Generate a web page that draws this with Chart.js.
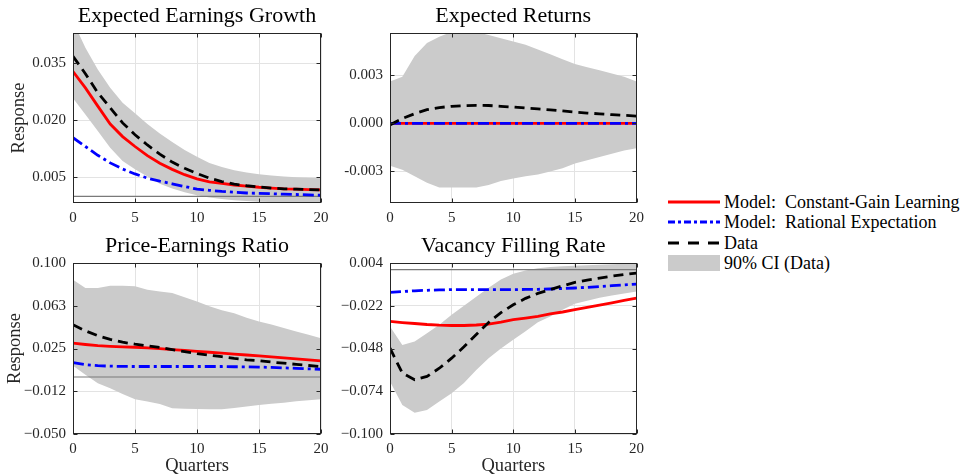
<!DOCTYPE html>
<html>
<head>
<meta charset="utf-8">
<script src="https://cdn.jsdelivr.net/npm/chart.js@4.4.1/dist/chart.umd.min.js"></script>
<style>
  html, body { margin:0; padding:0; background:#fff; }
  #wrap { position:relative; width:963px; height:475px; overflow:hidden; background:#fff; }
  canvas { position:absolute; }
  .lg { position:absolute; left:668px; height:20px; font-family:"Liberation Serif", serif; font-size:18px; color:#000; white-space:nowrap; }
  .lg svg { position:absolute; left:0; top:0; }
  .lg span { position:absolute; left:56px; top:0; line-height:20px; }
</style>
</head>
<body>
<div id="wrap">
  <canvas id="c1" width="335" height="230" style="left:0;top:0"></canvas>
  <canvas id="c2" width="320" height="230" style="left:330px;top:0"></canvas>
  <canvas id="c3" width="335" height="245" style="left:0;top:230px"></canvas>
  <canvas id="c4" width="320" height="245" style="left:330px;top:230px"></canvas>

  <div class="lg" style="top:192px"><svg width="52" height="20"><line x1="0" y1="10" x2="52" y2="10" stroke="#ff0000" stroke-width="3"/></svg><span>Model:&nbsp; Constant-Gain Learning</span></div>
  <div class="lg" style="top:212px"><svg width="52" height="20"><line x1="0" y1="10" x2="52" y2="10" stroke="#0000ff" stroke-width="3" stroke-dasharray="7,3,3,3"/></svg><span>Model:&nbsp; Rational Expectation</span></div>
  <div class="lg" style="top:233px"><svg width="52" height="20"><line x1="0" y1="10" x2="52" y2="10" stroke="#000000" stroke-width="3" stroke-dasharray="11,9"/></svg><span>Data</span></div>
  <div class="lg" style="top:253px"><svg width="52" height="20"><rect x="0" y="2" width="52" height="16" fill="#cbcbcb"/></svg><span>90% CI (Data)</span></div>
</div>
<script>
// ---------------- DATA ----------------
const quarters = [0,1,2,3,4,5,6,7,8,9,10,11,12,13,14,15,16,17,18,19,20];

// Panel 1: Expected Earnings Growth
const eegCGL  = [0.0328,0.0285,0.0237,0.0190,0.0157,0.0131,0.0107,0.0087,0.0071,0.0057,0.0046,0.0038,0.0034,0.0030,0.0027,0.0024,0.0022,0.0020,0.0019,0.0018,0.0017];
const eegRE   = [0.0154,0.0131,0.0108,0.0088,0.0072,0.0059,0.0048,0.0040,0.0033,0.0026,0.0019,0.0016,0.0013,0.0011,0.0009,0.0008,0.0007,0.0006,0.0005,0.0004,0.0003];
const eegData = [0.0368,0.0322,0.0272,0.0233,0.0193,0.0162,0.0135,0.0111,0.0090,0.0074,0.0060,0.0048,0.0039,0.0032,0.0028,0.0025,0.0022,0.0020,0.0019,0.0018,0.0017];
const eegHi   = [0.0460,0.0390,0.0333,0.0285,0.0246,0.0218,0.0190,0.0165,0.0143,0.0122,0.0104,0.0088,0.0077,0.0069,0.0063,0.0058,0.0055,0.0052,0.0050,0.0049,0.0048];
const eegLo   = [0.0258,0.0215,0.0172,0.0128,0.0093,0.0071,0.0052,0.0033,0.0021,0.0011,0.0003,-0.0003,-0.0007,-0.0010,-0.0012,-0.0014,-0.0015,-0.0016,-0.0017,-0.0018,-0.0019];

// Panel 2: Expected Returns
const erCGL  = [0,0,0,0,0,0,0,0,0,0,0,0,0,0,0,0,0,0,0,0,0];
const erRE   = [0,0,0,0,0,0,0,0,0,0,0,0,0,0,0,0,0,0,0,0,0];
const erData = [-0.0001,0.0003,0.0006,0.00085,0.00098,0.00106,0.0011,0.00112,0.00111,0.00106,0.00101,0.00095,0.0009,0.00084,0.00077,0.0007,0.00064,0.00059,0.00054,0.0005,0.00045];
const erHi   = [0.0026,0.0029,0.0042,0.0050,0.0054,0.0057,0.0058,0.0057,0.0055,0.0053,0.0051,0.0049,0.0046,0.0043,0.0040,0.0037,0.0035,0.0033,0.0031,0.0029,0.0026];
const erLo   = [-0.00265,-0.0029,-0.0033,-0.0037,-0.0040,-0.0040,-0.0040,-0.0040,-0.00385,-0.0036,-0.00345,-0.0033,-0.0032,-0.0030,-0.0028,-0.0025,-0.0023,-0.0021,-0.0019,-0.0017,-0.00155];

// Panel 3: Price-Earnings Ratio
const peCGL  = [0.0297,0.0285,0.0275,0.0269,0.0265,0.0261,0.0256,0.0249,0.0241,0.0233,0.0225,0.0217,0.0209,0.0201,0.0193,0.0185,0.0177,0.0168,0.0159,0.0151,0.0142];
const peRE   = [0.0127,0.0108,0.0099,0.0095,0.0093,0.0092,0.0092,0.0092,0.0092,0.0092,0.0092,0.0092,0.0092,0.0090,0.0089,0.0087,0.0084,0.0080,0.0076,0.0072,0.0068];
const peData = [0.0458,0.0405,0.0362,0.0330,0.0305,0.0288,0.0274,0.0260,0.0240,0.0222,0.0205,0.0192,0.0178,0.0163,0.0151,0.0142,0.0131,0.0121,0.0111,0.0101,0.0092];
const peHi   = [0.0854,0.0780,0.0780,0.0800,0.0800,0.0795,0.0766,0.0750,0.0736,0.0700,0.0663,0.0620,0.0585,0.0560,0.0520,0.0487,0.0460,0.0429,0.0400,0.0370,0.0341];
const peLo   = [0.0098,0.0019,-0.0055,-0.0099,-0.0150,-0.0195,-0.0215,-0.0236,-0.0275,-0.0278,-0.0280,-0.0282,-0.0283,-0.0272,-0.0258,-0.0245,-0.0235,-0.0225,-0.0213,-0.0203,-0.0195];

// Panel 4: Vacancy Filling Rate
const vfCGL  = [-0.0315,-0.0322,-0.0328,-0.0334,-0.0338,-0.0340,-0.0340,-0.0337,-0.0332,-0.0320,-0.0305,-0.0295,-0.0285,-0.0270,-0.0258,-0.0244,-0.0230,-0.0216,-0.0202,-0.0188,-0.0173];
const vfRE   = [-0.0139,-0.0134,-0.0129,-0.0126,-0.0124,-0.0122,-0.0122,-0.0122,-0.0122,-0.0122,-0.0122,-0.0121,-0.0120,-0.0118,-0.0115,-0.0112,-0.0108,-0.0103,-0.0098,-0.0093,-0.0088];
const vfData = [-0.0478,-0.0630,-0.0670,-0.0650,-0.0600,-0.0539,-0.0470,-0.0395,-0.0322,-0.0262,-0.0214,-0.0175,-0.0145,-0.0122,-0.0099,-0.0078,-0.0064,-0.0052,-0.0040,-0.0030,-0.0021];
const vfHi   = [-0.0346,-0.0458,-0.0437,-0.0387,-0.0336,-0.0275,-0.0220,-0.0165,-0.0110,-0.0060,-0.0025,-0.0005,0.0008,0.0015,0.0020,0.0024,0.0027,0.0030,0.0033,0.0036,0.0040];
const vfLo   = [-0.0680,-0.0823,-0.0870,-0.0854,-0.0803,-0.0752,-0.0690,-0.0610,-0.0539,-0.0480,-0.0427,-0.0375,-0.0320,-0.0285,-0.0245,-0.0208,-0.0190,-0.0172,-0.0158,-0.0145,-0.0133];

// Tick values and labels
const yTicks1 = [0.005, 0.020, 0.035];
const yLabels1 = ['0.005', '0.020', '0.035'];
const yTicks2 = [-0.003, 0.000, 0.003];
const yLabels2 = ['-0.003', '0.000', '0.003'];
const yTicks3 = [-0.05, -0.0125, 0.025, 0.0625, 0.1];
const yLabels3 = ['\u22120.050', '\u22120.012', '0.025', '0.063', '0.100'];
const yTicks4 = [-0.1, -0.074, -0.048, -0.022, 0.004];
const yLabels4 = ['\u22120.100', '\u22120.074', '\u22120.048', '\u22120.022', '0.004'];

const titles = ['Expected Earnings Growth', 'Expected Returns', 'Price-Earnings Ratio', 'Vacancy Filling Rate'];
const seriesNames = ['Model: Constant-Gain Learning', 'Model: Rational Expectation', 'Data', '90% CI (Data)'];

// ---------------- CHART ----------------
Chart.defaults.font.family = "'Liberation Serif', serif";
Chart.defaults.color = '#262626';

const xy = arr => quarters.map((q, i) => ({x: q, y: arr[i]}));

const zeroLinePlugin = {
  id: 'zeroLine',
  afterDatasetDraw(chart, args) {
    if (args.index !== 3) return;
    const {ctx, chartArea} = chart;
    const y = chart.scales.y.getPixelForValue(0);
    ctx.save();
    ctx.strokeStyle = '#7a7a7a';
    ctx.lineWidth = 1.2;
    ctx.beginPath();
    ctx.moveTo(chartArea.left, y);
    ctx.lineTo(chartArea.right, y);
    ctx.stroke();
    ctx.restore();
  }
};

const framePlugin = {
  id: 'frame',
  afterDraw(chart) {
    const {ctx, chartArea: a} = chart;
    ctx.save();
    ctx.strokeStyle = '#262626';
    ctx.lineWidth = 1;
    const L = Math.round(a.left) + 0.5, R = Math.round(a.right) - 0.5;
    const T = Math.round(a.top) + 0.5, B = Math.round(a.bottom) - 0.5;
    ctx.strokeRect(L, T, R - L, B - T);
    ctx.beginPath();
    chart.scales.y.ticks.forEach(t => {
      const y = Math.round(chart.scales.y.getPixelForValue(t.value)) + 0.5;
      ctx.moveTo(L, y); ctx.lineTo(L + 4, y);
      ctx.moveTo(R, y); ctx.lineTo(R - 4, y);
    });
    chart.scales.x.ticks.forEach(t => {
      const x = Math.round(chart.scales.x.getPixelForValue(t.value)) + 0.5;
      ctx.moveTo(x, B); ctx.lineTo(x, B - 4);
      ctx.moveTo(x, T); ctx.lineTo(x, T + 4);
    });
    ctx.stroke();
    ctx.restore();
  }
};

function makePanel(id, p) {
  new Chart(document.getElementById(id), {
    type: 'line',
    data: {
      datasets: [
        { label: seriesNames[2], data: xy(p.data), borderColor: '#000000', borderWidth: 2.8, borderDash: [10, 6], pointRadius: 0, fill: false, order: 1 },
        { label: seriesNames[1], data: xy(p.re), borderColor: '#0000ff', borderWidth: 2.8, borderDash: [11, 4, 3, 4], pointRadius: 0, fill: false, order: 2 },
        { label: seriesNames[0], data: xy(p.cgl), borderColor: '#ff0000', borderWidth: 2.8, pointRadius: 0, fill: false, order: 3 },
        { label: seriesNames[3], data: xy(p.hi), borderColor: 'rgba(0,0,0,0)', borderWidth: 0, backgroundColor: '#cbcbcb', pointRadius: 0, fill: '+1', order: 4 },
        { label: seriesNames[3] + ' lower', data: xy(p.lo), borderColor: 'rgba(0,0,0,0)', borderWidth: 0, pointRadius: 0, fill: false, order: 5 }
      ]
    },
    options: {
      responsive: false,
      animation: false,
      devicePixelRatio: 1,
      layout: { padding: { left: 0, right: p.padRight, top: 0, bottom: 0 } },
      plugins: {
        legend: { display: false },
        tooltip: { enabled: false },
        title: { display: true, fullSize: false, text: p.title, color: '#000000', font: { size: 22, weight: 'normal', lineHeight: 1 }, padding: { top: 5, bottom: 6 } }
      },
      scales: {
        x: {
          type: 'linear', min: 0, max: 20,
          ticks: { stepSize: 5, padding: 6, font: { size: 15 }, color: '#262626', maxRotation: 0 },
          grid: { color: '#e3e3e3', drawTicks: false },
          border: { display: false },
          title: { display: p.showX, text: 'Quarters', color: '#262626', font: { size: 18.5, lineHeight: 1 }, padding: 0 },
          afterFit: s => { s.height = p.xH; }
        },
        y: {
          min: p.min, max: p.max,
          afterBuildTicks: s => { s.ticks = p.ticks.map(v => ({ value: v })); },
          ticks: { padding: 7, font: { size: 15 }, color: '#262626', callback: (v, i) => p.labels[i] },
          grid: { color: '#e3e3e3', drawTicks: false },
          border: { display: false },
          title: { display: p.showY, text: 'Response', color: '#262626', font: { size: 18.5, lineHeight: 1 }, padding: { top: p.yTitlePad, bottom: 0 } },
          afterFit: s => { s.width = p.yW; }
        }
      }
    },
    plugins: [zeroLinePlugin, framePlugin]
  });
}

makePanel('c1', { title: titles[0], cgl: eegCGL, re: eegRE, data: eegData, hi: eegHi, lo: eegLo,
  min: -0.00173, max: 0.0429, ticks: yTicks1, labels: yLabels1, yW: 73, xH: 27, padRight: 14, showX: false, showY: true, yTitlePad: 10 });
makePanel('c2', { title: titles[1], cgl: erCGL, re: erRE, data: erData, hi: erHi, lo: erLo,
  min: -0.00497, max: 0.00563, ticks: yTicks2, labels: yLabels2, yW: 60, xH: 27, padRight: 13, showX: false, showY: false, yTitlePad: 0 });
makePanel('c3', { title: titles[2], cgl: peCGL, re: peRE, data: peData, hi: peHi, lo: peLo,
  min: -0.05, max: 0.1, ticks: yTicks3, labels: yLabels3, yW: 73, xH: 41, padRight: 14, showX: true, showY: true, yTitlePad: 6 });
makePanel('c4', { title: titles[3], cgl: vfCGL, re: vfRE, data: vfData, hi: vfHi, lo: vfLo,
  min: -0.1, max: 0.004, ticks: yTicks4, labels: yLabels4, yW: 60, xH: 41, padRight: 13, showX: true, showY: false, yTitlePad: 0 });
</script>
</body>
</html>
